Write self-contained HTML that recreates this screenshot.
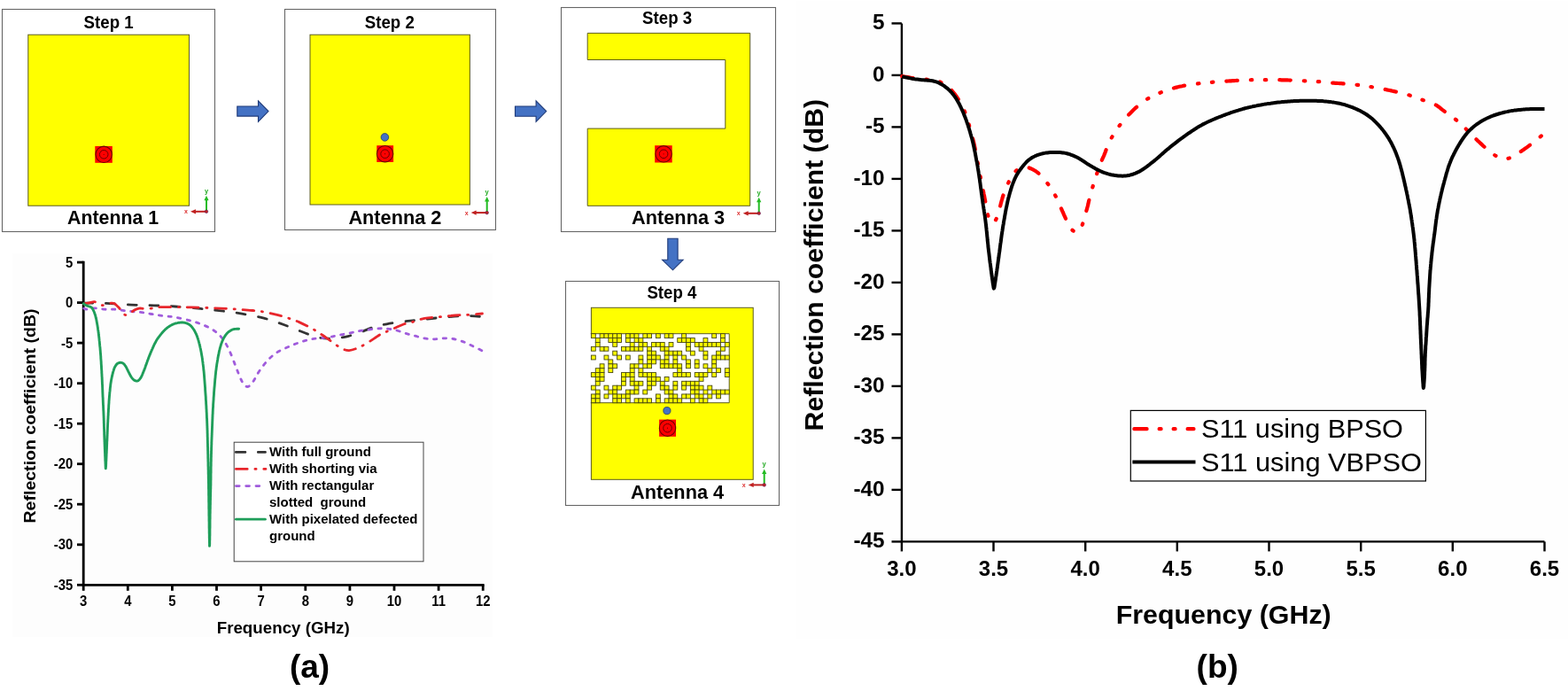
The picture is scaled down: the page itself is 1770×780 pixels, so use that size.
<!DOCTYPE html><html><head><meta charset="utf-8"><title>Antenna design steps and reflection coefficient</title>
<style>html,body{margin:0;padding:0;background:#fff;}svg{display:block;}text{font-family:"Liberation Sans",Arial,sans-serif;}</style></head><body>
<svg width="1770" height="780" viewBox="0 0 1770 780">
<rect x="0" y="0" width="1770" height="780" fill="#ffffff"/>
<rect x="14" y="286" width="542" height="433" fill="#fdfdfd"/><rect x="898" y="1" width="872" height="719.5" fill="#fefefe"/>
<rect x="2.5" y="10.5" width="240" height="251" stroke="#666666" stroke-width="1.1" fill="#ffffff"/>
<rect x="31.8" y="39.2" width="181.7" height="193" fill="#ffff00" stroke="#5c5c1e" stroke-width="1"/>
<rect x="107.3" y="165" width="19.5" height="18.8" fill="#ff0000"/><circle cx="117.2" cy="174.3" r="9.2" fill="#ff0000" stroke="#6a0000" stroke-width="1.1"/><circle cx="117.2" cy="174.3" r="4.8" fill="none" stroke="#6a0000" stroke-width="1"/><circle cx="117.2" cy="174.3" r="0.6" fill="#6a0000"/>
<line x1="233" y1="238.8" x2="233" y2="224.8" stroke="#22bb22" stroke-width="2"/><path d="M230.4,226.3 L233,220.8 L235.6,226.3 Z" fill="#22bb22"/><line x1="233" y1="238.8" x2="220" y2="238.8" stroke="#c02020" stroke-width="2"/><path d="M221,236.2 L215,238.8 L221,241.4 Z" fill="#c02020"/><circle cx="233" cy="238.8" r="1.8" fill="#c02020" stroke="#602060" stroke-width="0.6"/><text x="233" y="217.8" font-size="7.5" font-weight="bold" fill="#22aa22" text-anchor="middle">y</text><text x="210" y="241.3" font-size="7" font-weight="bold" fill="#dd3333" text-anchor="middle">x</text>
<text x="122.6" y="31.9" font-size="19.5" font-weight="bold" text-anchor="middle" textLength="56" lengthAdjust="spacingAndGlyphs">Step 1</text>
<text x="127.6" y="252.5" font-size="21.5" font-weight="bold" text-anchor="middle" textLength="103" lengthAdjust="spacingAndGlyphs">Antenna 1</text>
<rect x="321.5" y="10.5" width="238" height="249" stroke="#666666" stroke-width="1.1" fill="#ffffff"/>
<rect x="350" y="39.2" width="180.4" height="191.8" fill="#ffff00" stroke="#5c5c1e" stroke-width="1"/>
<circle cx="434.4" cy="154.9" r="4.3" fill="#4472c4" stroke="#1f3864" stroke-width="0.8"/>
<rect x="425.3" y="164.2" width="18.8" height="18.8" fill="#ff0000"/><circle cx="434.6" cy="173.7" r="9.2" fill="#ff0000" stroke="#6a0000" stroke-width="1.1"/><circle cx="434.6" cy="173.7" r="4.8" fill="none" stroke="#6a0000" stroke-width="1"/><circle cx="434.6" cy="173.7" r="0.6" fill="#6a0000"/>
<line x1="549.7" y1="240.1" x2="549.7" y2="226.1" stroke="#22bb22" stroke-width="2"/><path d="M547.1,227.6 L549.7,222.1 L552.3,227.6 Z" fill="#22bb22"/><line x1="549.7" y1="240.1" x2="536.7" y2="240.1" stroke="#c02020" stroke-width="2"/><path d="M537.7,237.5 L531.7,240.1 L537.7,242.7 Z" fill="#c02020"/><circle cx="549.7" cy="240.1" r="1.8" fill="#c02020" stroke="#602060" stroke-width="0.6"/><text x="549.7" y="219.1" font-size="7.5" font-weight="bold" fill="#22aa22" text-anchor="middle">y</text><text x="526.7" y="242.6" font-size="7" font-weight="bold" fill="#dd3333" text-anchor="middle">x</text>
<text x="439.8" y="31.9" font-size="19.5" font-weight="bold" text-anchor="middle" textLength="56" lengthAdjust="spacingAndGlyphs">Step 2</text>
<text x="445.9" y="252.9" font-size="21.5" font-weight="bold" text-anchor="middle" textLength="105" lengthAdjust="spacingAndGlyphs">Antenna 2</text>
<rect x="633.5" y="8.5" width="242" height="253" stroke="#666666" stroke-width="1.1" fill="#ffffff"/>
<path d="M663.2,37.4 H846.7 V232.3 H663.2 V145.1 H818.8 V67.5 H663.2 Z" fill="#ffff00" stroke="#5c5c1e" stroke-width="1"/>
<rect x="739.2" y="164.2" width="19.5" height="19.3" fill="#ff0000"/><circle cx="749.1" cy="173.8" r="9.2" fill="#ff0000" stroke="#6a0000" stroke-width="1.1"/><circle cx="749.1" cy="173.8" r="4.8" fill="none" stroke="#6a0000" stroke-width="1"/><circle cx="749.1" cy="173.8" r="0.6" fill="#6a0000"/>
<line x1="856.7" y1="240.8" x2="856.7" y2="226.8" stroke="#22bb22" stroke-width="2"/><path d="M854.1,228.3 L856.7,222.8 L859.3,228.3 Z" fill="#22bb22"/><line x1="856.7" y1="240.8" x2="843.7" y2="240.8" stroke="#c02020" stroke-width="2"/><path d="M844.7,238.2 L838.7,240.8 L844.7,243.4 Z" fill="#c02020"/><circle cx="856.7" cy="240.8" r="1.8" fill="#c02020" stroke="#602060" stroke-width="0.6"/><text x="856.7" y="219.8" font-size="7.5" font-weight="bold" fill="#22aa22" text-anchor="middle">y</text><text x="833.7" y="243.3" font-size="7" font-weight="bold" fill="#dd3333" text-anchor="middle">x</text>
<text x="753.1" y="27.4" font-size="19.5" font-weight="bold" text-anchor="middle" textLength="56" lengthAdjust="spacingAndGlyphs">Step 3</text>
<text x="765.6" y="252.8" font-size="21.5" font-weight="bold" text-anchor="middle" textLength="105" lengthAdjust="spacingAndGlyphs">Antenna 3</text>
<rect x="638.5" y="317.5" width="241" height="253" stroke="#666666" stroke-width="1.1" fill="#ffffff"/>
<rect x="667.4" y="347.3" width="182.8" height="194" fill="#ffff00" stroke="#5c5c1e" stroke-width="1"/>
<rect x="666.1999999999999" y="376.7" width="157" height="78" fill="#ffffff"/>
<path d="M666.8,376.7 H823.2 V454.7 H666.8" fill="none" stroke="#5c5c1e" stroke-width="1"/>
<g fill="#ffff00" stroke="#45450f" stroke-width="0.9"><rect x="667.40" y="376.70" width="4.87" height="4.88"/><rect x="677.14" y="376.70" width="4.87" height="4.88"/><rect x="682.01" y="376.70" width="4.87" height="4.88"/><rect x="686.88" y="376.70" width="4.87" height="4.88"/><rect x="691.74" y="376.70" width="4.87" height="4.88"/><rect x="696.61" y="376.70" width="4.87" height="4.88"/><rect x="706.35" y="376.70" width="4.87" height="4.88"/><rect x="711.22" y="376.70" width="4.87" height="4.88"/><rect x="716.09" y="376.70" width="4.87" height="4.88"/><rect x="725.82" y="376.70" width="4.87" height="4.88"/><rect x="730.69" y="376.70" width="4.87" height="4.88"/><rect x="740.43" y="376.70" width="4.87" height="4.88"/><rect x="750.17" y="376.70" width="4.87" height="4.88"/><rect x="755.04" y="376.70" width="4.87" height="4.88"/><rect x="769.64" y="376.70" width="4.87" height="4.88"/><rect x="803.73" y="376.70" width="4.87" height="4.88"/><rect x="813.46" y="376.70" width="4.87" height="4.88"/><rect x="672.27" y="381.57" width="4.87" height="4.88"/><rect x="686.88" y="381.57" width="4.87" height="4.88"/><rect x="691.74" y="381.57" width="4.87" height="4.88"/><rect x="696.61" y="381.57" width="4.87" height="4.88"/><rect x="706.35" y="381.57" width="4.87" height="4.88"/><rect x="716.09" y="381.57" width="4.87" height="4.88"/><rect x="720.96" y="381.57" width="4.87" height="4.88"/><rect x="764.77" y="381.57" width="4.87" height="4.88"/><rect x="769.64" y="381.57" width="4.87" height="4.88"/><rect x="774.51" y="381.57" width="4.87" height="4.88"/><rect x="779.38" y="381.57" width="4.87" height="4.88"/><rect x="793.99" y="381.57" width="4.87" height="4.88"/><rect x="813.46" y="381.57" width="4.87" height="4.88"/><rect x="672.27" y="386.45" width="4.87" height="4.88"/><rect x="691.74" y="386.45" width="4.87" height="4.88"/><rect x="711.22" y="386.45" width="4.87" height="4.88"/><rect x="720.96" y="386.45" width="4.87" height="4.88"/><rect x="725.82" y="386.45" width="4.87" height="4.88"/><rect x="735.56" y="386.45" width="4.87" height="4.88"/><rect x="740.43" y="386.45" width="4.87" height="4.88"/><rect x="745.30" y="386.45" width="4.87" height="4.88"/><rect x="755.04" y="386.45" width="4.87" height="4.88"/><rect x="774.51" y="386.45" width="4.87" height="4.88"/><rect x="784.25" y="386.45" width="4.87" height="4.88"/><rect x="789.12" y="386.45" width="4.87" height="4.88"/><rect x="793.99" y="386.45" width="4.87" height="4.88"/><rect x="798.86" y="386.45" width="4.87" height="4.88"/><rect x="803.73" y="386.45" width="4.87" height="4.88"/><rect x="808.59" y="386.45" width="4.87" height="4.88"/><rect x="818.33" y="386.45" width="4.87" height="4.88"/><rect x="667.40" y="391.32" width="4.87" height="4.88"/><rect x="677.14" y="391.32" width="4.87" height="4.88"/><rect x="682.01" y="391.32" width="4.87" height="4.88"/><rect x="701.48" y="391.32" width="4.87" height="4.88"/><rect x="706.35" y="391.32" width="4.87" height="4.88"/><rect x="711.22" y="391.32" width="4.87" height="4.88"/><rect x="716.09" y="391.32" width="4.87" height="4.88"/><rect x="720.96" y="391.32" width="4.87" height="4.88"/><rect x="730.69" y="391.32" width="4.87" height="4.88"/><rect x="745.30" y="391.32" width="4.87" height="4.88"/><rect x="750.17" y="391.32" width="4.87" height="4.88"/><rect x="774.51" y="391.32" width="4.87" height="4.88"/><rect x="789.12" y="391.32" width="4.87" height="4.88"/><rect x="813.46" y="391.32" width="4.87" height="4.88"/><rect x="691.74" y="396.20" width="4.87" height="4.88"/><rect x="730.69" y="396.20" width="4.87" height="4.88"/><rect x="735.56" y="396.20" width="4.87" height="4.88"/><rect x="750.17" y="396.20" width="4.87" height="4.88"/><rect x="755.04" y="396.20" width="4.87" height="4.88"/><rect x="759.91" y="396.20" width="4.87" height="4.88"/><rect x="764.77" y="396.20" width="4.87" height="4.88"/><rect x="779.38" y="396.20" width="4.87" height="4.88"/><rect x="793.99" y="396.20" width="4.87" height="4.88"/><rect x="808.59" y="396.20" width="4.87" height="4.88"/><rect x="667.40" y="401.07" width="4.87" height="4.88"/><rect x="682.01" y="401.07" width="4.87" height="4.88"/><rect x="696.61" y="401.07" width="4.87" height="4.88"/><rect x="706.35" y="401.07" width="4.87" height="4.88"/><rect x="720.96" y="401.07" width="4.87" height="4.88"/><rect x="730.69" y="401.07" width="4.87" height="4.88"/><rect x="735.56" y="401.07" width="4.87" height="4.88"/><rect x="740.43" y="401.07" width="4.87" height="4.88"/><rect x="750.17" y="401.07" width="4.87" height="4.88"/><rect x="759.91" y="401.07" width="4.87" height="4.88"/><rect x="769.64" y="401.07" width="4.87" height="4.88"/><rect x="793.99" y="401.07" width="4.87" height="4.88"/><rect x="803.73" y="401.07" width="4.87" height="4.88"/><rect x="808.59" y="401.07" width="4.87" height="4.88"/><rect x="813.46" y="401.07" width="4.87" height="4.88"/><rect x="818.33" y="401.07" width="4.87" height="4.88"/><rect x="686.88" y="405.95" width="4.87" height="4.88"/><rect x="720.96" y="405.95" width="4.87" height="4.88"/><rect x="730.69" y="405.95" width="4.87" height="4.88"/><rect x="735.56" y="405.95" width="4.87" height="4.88"/><rect x="745.30" y="405.95" width="4.87" height="4.88"/><rect x="750.17" y="405.95" width="4.87" height="4.88"/><rect x="759.91" y="405.95" width="4.87" height="4.88"/><rect x="774.51" y="405.95" width="4.87" height="4.88"/><rect x="784.25" y="405.95" width="4.87" height="4.88"/><rect x="803.73" y="405.95" width="4.87" height="4.88"/><rect x="677.14" y="410.82" width="4.87" height="4.88"/><rect x="686.88" y="410.82" width="4.87" height="4.88"/><rect x="691.74" y="410.82" width="4.87" height="4.88"/><rect x="711.22" y="410.82" width="4.87" height="4.88"/><rect x="716.09" y="410.82" width="4.87" height="4.88"/><rect x="725.82" y="410.82" width="4.87" height="4.88"/><rect x="730.69" y="410.82" width="4.87" height="4.88"/><rect x="745.30" y="410.82" width="4.87" height="4.88"/><rect x="750.17" y="410.82" width="4.87" height="4.88"/><rect x="755.04" y="410.82" width="4.87" height="4.88"/><rect x="759.91" y="410.82" width="4.87" height="4.88"/><rect x="764.77" y="410.82" width="4.87" height="4.88"/><rect x="774.51" y="410.82" width="4.87" height="4.88"/><rect x="784.25" y="410.82" width="4.87" height="4.88"/><rect x="793.99" y="410.82" width="4.87" height="4.88"/><rect x="803.73" y="410.82" width="4.87" height="4.88"/><rect x="672.27" y="415.70" width="4.87" height="4.88"/><rect x="677.14" y="415.70" width="4.87" height="4.88"/><rect x="686.88" y="415.70" width="4.87" height="4.88"/><rect x="711.22" y="415.70" width="4.87" height="4.88"/><rect x="720.96" y="415.70" width="4.87" height="4.88"/><rect x="764.77" y="415.70" width="4.87" height="4.88"/><rect x="798.86" y="415.70" width="4.87" height="4.88"/><rect x="808.59" y="415.70" width="4.87" height="4.88"/><rect x="818.33" y="415.70" width="4.87" height="4.88"/><rect x="667.40" y="420.57" width="4.87" height="4.88"/><rect x="672.27" y="420.57" width="4.87" height="4.88"/><rect x="677.14" y="420.57" width="4.87" height="4.88"/><rect x="701.48" y="420.57" width="4.87" height="4.88"/><rect x="706.35" y="420.57" width="4.87" height="4.88"/><rect x="711.22" y="420.57" width="4.87" height="4.88"/><rect x="720.96" y="420.57" width="4.87" height="4.88"/><rect x="725.82" y="420.57" width="4.87" height="4.88"/><rect x="730.69" y="420.57" width="4.87" height="4.88"/><rect x="735.56" y="420.57" width="4.87" height="4.88"/><rect x="759.91" y="420.57" width="4.87" height="4.88"/><rect x="764.77" y="420.57" width="4.87" height="4.88"/><rect x="769.64" y="420.57" width="4.87" height="4.88"/><rect x="774.51" y="420.57" width="4.87" height="4.88"/><rect x="784.25" y="420.57" width="4.87" height="4.88"/><rect x="789.12" y="420.57" width="4.87" height="4.88"/><rect x="793.99" y="420.57" width="4.87" height="4.88"/><rect x="803.73" y="420.57" width="4.87" height="4.88"/><rect x="818.33" y="420.57" width="4.87" height="4.88"/><rect x="672.27" y="425.45" width="4.87" height="4.88"/><rect x="677.14" y="425.45" width="4.87" height="4.88"/><rect x="701.48" y="425.45" width="4.87" height="4.88"/><rect x="711.22" y="425.45" width="4.87" height="4.88"/><rect x="730.69" y="425.45" width="4.87" height="4.88"/><rect x="735.56" y="425.45" width="4.87" height="4.88"/><rect x="740.43" y="425.45" width="4.87" height="4.88"/><rect x="750.17" y="425.45" width="4.87" height="4.88"/><rect x="789.12" y="425.45" width="4.87" height="4.88"/><rect x="672.27" y="430.32" width="4.87" height="4.88"/><rect x="701.48" y="430.32" width="4.87" height="4.88"/><rect x="711.22" y="430.32" width="4.87" height="4.88"/><rect x="716.09" y="430.32" width="4.87" height="4.88"/><rect x="720.96" y="430.32" width="4.87" height="4.88"/><rect x="730.69" y="430.32" width="4.87" height="4.88"/><rect x="735.56" y="430.32" width="4.87" height="4.88"/><rect x="745.30" y="430.32" width="4.87" height="4.88"/><rect x="759.91" y="430.32" width="4.87" height="4.88"/><rect x="769.64" y="430.32" width="4.87" height="4.88"/><rect x="774.51" y="430.32" width="4.87" height="4.88"/><rect x="779.38" y="430.32" width="4.87" height="4.88"/><rect x="784.25" y="430.32" width="4.87" height="4.88"/><rect x="667.40" y="435.20" width="4.87" height="4.88"/><rect x="682.01" y="435.20" width="4.87" height="4.88"/><rect x="691.74" y="435.20" width="4.87" height="4.88"/><rect x="696.61" y="435.20" width="4.87" height="4.88"/><rect x="716.09" y="435.20" width="4.87" height="4.88"/><rect x="730.69" y="435.20" width="4.87" height="4.88"/><rect x="745.30" y="435.20" width="4.87" height="4.88"/><rect x="750.17" y="435.20" width="4.87" height="4.88"/><rect x="759.91" y="435.20" width="4.87" height="4.88"/><rect x="769.64" y="435.20" width="4.87" height="4.88"/><rect x="779.38" y="435.20" width="4.87" height="4.88"/><rect x="784.25" y="435.20" width="4.87" height="4.88"/><rect x="789.12" y="435.20" width="4.87" height="4.88"/><rect x="798.86" y="435.20" width="4.87" height="4.88"/><rect x="672.27" y="440.07" width="4.87" height="4.88"/><rect x="686.88" y="440.07" width="4.87" height="4.88"/><rect x="691.74" y="440.07" width="4.87" height="4.88"/><rect x="706.35" y="440.07" width="4.87" height="4.88"/><rect x="711.22" y="440.07" width="4.87" height="4.88"/><rect x="716.09" y="440.07" width="4.87" height="4.88"/><rect x="725.82" y="440.07" width="4.87" height="4.88"/><rect x="750.17" y="440.07" width="4.87" height="4.88"/><rect x="755.04" y="440.07" width="4.87" height="4.88"/><rect x="779.38" y="440.07" width="4.87" height="4.88"/><rect x="784.25" y="440.07" width="4.87" height="4.88"/><rect x="793.99" y="440.07" width="4.87" height="4.88"/><rect x="803.73" y="440.07" width="4.87" height="4.88"/><rect x="808.59" y="440.07" width="4.87" height="4.88"/><rect x="813.46" y="440.07" width="4.87" height="4.88"/><rect x="818.33" y="440.07" width="4.87" height="4.88"/><rect x="667.40" y="444.95" width="4.87" height="4.88"/><rect x="672.27" y="444.95" width="4.87" height="4.88"/><rect x="682.01" y="444.95" width="4.87" height="4.88"/><rect x="691.74" y="444.95" width="4.87" height="4.88"/><rect x="696.61" y="444.95" width="4.87" height="4.88"/><rect x="701.48" y="444.95" width="4.87" height="4.88"/><rect x="706.35" y="444.95" width="4.87" height="4.88"/><rect x="740.43" y="444.95" width="4.87" height="4.88"/><rect x="755.04" y="444.95" width="4.87" height="4.88"/><rect x="759.91" y="444.95" width="4.87" height="4.88"/><rect x="769.64" y="444.95" width="4.87" height="4.88"/><rect x="774.51" y="444.95" width="4.87" height="4.88"/><rect x="784.25" y="444.95" width="4.87" height="4.88"/><rect x="789.12" y="444.95" width="4.87" height="4.88"/><rect x="798.86" y="444.95" width="4.87" height="4.88"/><rect x="808.59" y="444.95" width="4.87" height="4.88"/><rect x="667.40" y="449.82" width="4.87" height="4.88"/><rect x="672.27" y="449.82" width="4.87" height="4.88"/><rect x="691.74" y="449.82" width="4.87" height="4.88"/><rect x="696.61" y="449.82" width="4.87" height="4.88"/><rect x="706.35" y="449.82" width="4.87" height="4.88"/><rect x="716.09" y="449.82" width="4.87" height="4.88"/><rect x="720.96" y="449.82" width="4.87" height="4.88"/><rect x="725.82" y="449.82" width="4.87" height="4.88"/><rect x="730.69" y="449.82" width="4.87" height="4.88"/><rect x="740.43" y="449.82" width="4.87" height="4.88"/><rect x="750.17" y="449.82" width="4.87" height="4.88"/><rect x="755.04" y="449.82" width="4.87" height="4.88"/><rect x="759.91" y="449.82" width="4.87" height="4.88"/><rect x="764.77" y="449.82" width="4.87" height="4.88"/><rect x="779.38" y="449.82" width="4.87" height="4.88"/><rect x="789.12" y="449.82" width="4.87" height="4.88"/><rect x="793.99" y="449.82" width="4.87" height="4.88"/></g>
<circle cx="752.9" cy="463.6" r="4.1" fill="#4472c4" stroke="#1f3864" stroke-width="0.8"/>
<rect x="744.1" y="473.6" width="18.9" height="19.2" fill="#ff0000"/><circle cx="753.5" cy="483.2" r="9.2" fill="#ff0000" stroke="#6a0000" stroke-width="1.1"/><circle cx="753.5" cy="483.2" r="4.8" fill="none" stroke="#6a0000" stroke-width="1"/><circle cx="753.5" cy="483.2" r="0.6" fill="#6a0000"/>
<line x1="862.7" y1="547.4" x2="862.7" y2="533.4" stroke="#22bb22" stroke-width="2"/><path d="M860.1,534.9 L862.7,529.4 L865.3,534.9 Z" fill="#22bb22"/><line x1="862.7" y1="547.4" x2="849.7" y2="547.4" stroke="#c02020" stroke-width="2"/><path d="M850.7,544.8 L844.7,547.4 L850.7,550 Z" fill="#c02020"/><circle cx="862.7" cy="547.4" r="1.8" fill="#c02020" stroke="#602060" stroke-width="0.6"/><text x="862.7" y="526.4" font-size="7.5" font-weight="bold" fill="#22aa22" text-anchor="middle">y</text><text x="839.7" y="549.9" font-size="7" font-weight="bold" fill="#dd3333" text-anchor="middle">x</text>
<text x="758.4" y="337.3" font-size="19.5" font-weight="bold" text-anchor="middle" textLength="56" lengthAdjust="spacingAndGlyphs">Step 4</text>
<text x="764.6" y="563" font-size="21.5" font-weight="bold" text-anchor="middle" textLength="105" lengthAdjust="spacingAndGlyphs">Antenna 4</text>
<path d="M267.8,120 H291.5 V113.9 L303,125.6 L291.5,137.4 V131.1 H267.8 Z" fill="#4472c4" stroke="#1f3a78" stroke-width="1.1" stroke-linejoin="miter" stroke-miterlimit="3"/>
<path d="M581.5,120 H605.1 V113.9 L616.7,125.6 L605.1,137.4 V131.2 H581.5 Z" fill="#4472c4" stroke="#1f3a78" stroke-width="1.1" stroke-linejoin="miter" stroke-miterlimit="3"/>
<path d="M753.8,269.3 H765.1 V293.3 H771.1 L759.5,304.8 L747.6,293.3 H753.8 Z" fill="#4472c4" stroke="#1f3a78" stroke-width="1.1" stroke-linejoin="miter" stroke-miterlimit="3"/>
<g stroke="#000" stroke-width="2.8" fill="none" stroke-linecap="square">
<path d="M94.2,296.1 V660.3 H545.2"/>
<line x1="87" y1="296.1" x2="94.2" y2="296.1" stroke-linecap="butt"/>
<line x1="87" y1="341.6" x2="94.2" y2="341.6" stroke-linecap="butt"/>
<line x1="87" y1="387.1" x2="94.2" y2="387.1" stroke-linecap="butt"/>
<line x1="87" y1="432.7" x2="94.2" y2="432.7" stroke-linecap="butt"/>
<line x1="87" y1="478.2" x2="94.2" y2="478.2" stroke-linecap="butt"/>
<line x1="87" y1="523.7" x2="94.2" y2="523.7" stroke-linecap="butt"/>
<line x1="87" y1="569.2" x2="94.2" y2="569.2" stroke-linecap="butt"/>
<line x1="87" y1="614.8" x2="94.2" y2="614.8" stroke-linecap="butt"/>
<line x1="87" y1="660.3" x2="94.2" y2="660.3" stroke-linecap="butt"/>
<line x1="94.2" y1="660.3" x2="94.2" y2="666.8" stroke-linecap="butt"/>
<line x1="144.3" y1="660.3" x2="144.3" y2="666.8" stroke-linecap="butt"/>
<line x1="194.4" y1="660.3" x2="194.4" y2="666.8" stroke-linecap="butt"/>
<line x1="244.5" y1="660.3" x2="244.5" y2="666.8" stroke-linecap="butt"/>
<line x1="294.6" y1="660.3" x2="294.6" y2="666.8" stroke-linecap="butt"/>
<line x1="344.8" y1="660.3" x2="344.8" y2="666.8" stroke-linecap="butt"/>
<line x1="394.9" y1="660.3" x2="394.9" y2="666.8" stroke-linecap="butt"/>
<line x1="445" y1="660.3" x2="445" y2="666.8" stroke-linecap="butt"/>
<line x1="495.1" y1="660.3" x2="495.1" y2="666.8" stroke-linecap="butt"/>
<line x1="545.2" y1="660.3" x2="545.2" y2="666.8" stroke-linecap="butt"/>
</g>
<g font-size="16" font-weight="bold" text-anchor="end">
<text transform="translate(82.2,301.5) scale(0.93,1)">5</text>
<text transform="translate(82.2,347) scale(0.93,1)">0</text>
<text transform="translate(82.2,392.5) scale(0.93,1)">-5</text>
<text transform="translate(82.2,438.1) scale(0.93,1)">-10</text>
<text transform="translate(82.2,483.6) scale(0.93,1)">-15</text>
<text transform="translate(82.2,529.1) scale(0.93,1)">-20</text>
<text transform="translate(82.2,574.6) scale(0.93,1)">-25</text>
<text transform="translate(82.2,620.1) scale(0.93,1)">-30</text>
<text transform="translate(82.2,665.7) scale(0.93,1)">-35</text>
</g><g font-size="16" font-weight="bold" text-anchor="middle">
<text transform="translate(94.2,684.2) scale(0.93,1)">3</text>
<text transform="translate(144.3,684.2) scale(0.93,1)">4</text>
<text transform="translate(194.4,684.2) scale(0.93,1)">5</text>
<text transform="translate(244.5,684.2) scale(0.93,1)">6</text>
<text transform="translate(294.6,684.2) scale(0.93,1)">7</text>
<text transform="translate(344.8,684.2) scale(0.93,1)">8</text>
<text transform="translate(394.9,684.2) scale(0.93,1)">9</text>
<text transform="translate(445,684.2) scale(0.93,1)">10</text>
<text transform="translate(495.1,684.2) scale(0.93,1)">11</text>
<text transform="translate(545.2,684.2) scale(0.93,1)">12</text>
</g>
<text x="319.7" y="714.5" font-size="18.7" font-weight="bold" text-anchor="middle" textLength="150" lengthAdjust="spacingAndGlyphs">Frequency (GHz)</text>
<text transform="translate(40,469.5) rotate(-90)" x="0" y="0" font-size="18.7" font-weight="bold" text-anchor="middle" textLength="242" lengthAdjust="spacingAndGlyphs">Reflection coefficient (dB)</text>
<text x="349.5" y="765.1" font-size="37" font-weight="bold" text-anchor="middle">(a)</text>
<path d="M94.8,342.1 C96.7,342.1 101.9,342.1 106.1,342.1 C110.3,342.2 113.1,342.1 120.2,342.4 C127.3,342.7 139.6,343.7 148.5,344.1 C157.4,344.5 165.7,344.5 173.9,344.8 C182.1,345.1 188.9,345.4 197.7,346 C206.4,346.6 217.7,347.6 226.4,348.4 C235.1,349.2 242,349.9 249.8,350.9 C257.6,351.8 265.1,352.7 273.1,354.1 C281.1,355.5 289.9,357 297.9,359.1 C305.9,361.2 313.3,364 321,366.8 C328.7,369.6 338.1,373.6 344.1,375.8 C350.1,378.1 352.6,379.2 356.9,380.3 C361.2,381.4 365.7,382 369.7,382.2 C373.7,382.4 377.1,381.9 381,381.5 C384.9,381.1 388.3,380.8 392.8,379.6 C397.3,378.4 403.2,376.3 408.2,374.5 C413.2,372.7 418,370.4 422.7,369 C427.4,367.6 431.1,366.8 436.5,365.8 C441.9,364.8 449.4,363.6 455,362.9 C460.6,362.2 463.5,362.1 470,361.4 C476.5,360.7 485,359.6 494.2,358.8 C503.4,358 517,356.7 525.4,356.5 C533.8,356.3 541.3,357.3 544.5,357.5" fill="none" stroke="#333333" stroke-width="2.8" stroke-dasharray="9.9 14.8" stroke-linecap="round"/>
<path d="M94.8,348.1 C95.3,348.3 95.6,349.2 97.6,349.2 C99.6,349.1 103.3,347.8 106.7,347.8 C110.1,347.8 114.2,349 118,349.2 C121.8,349.4 125.6,349 129.3,349.2 C133,349.4 136.3,350.2 140,350.6 C143.7,351 147.5,351.4 151.3,351.8 C155.1,352.2 158.9,352.4 162.6,352.9 C166.3,353.4 169.6,354.3 173.4,354.9 C177.2,355.5 181.1,356.1 185.2,356.6 C189.2,357.1 192.6,357.2 197.7,358.1 C202.8,359 210.3,360.7 215.7,362.2 C221.1,363.7 225.5,365.1 230,367 C234.5,368.9 239,371.3 242.6,373.9 C246.2,376.5 248.9,379.2 251.6,382.8 C254.3,386.4 256.4,390.3 258.8,395.4 C261.2,400.5 264,408.3 266,413.4 C268,418.5 269.5,422.6 271,426 C272.5,429.4 273.7,431.8 275,433.5 C276.3,435.2 277.6,436.4 279,436.5 C280.4,436.6 282,435.6 283.5,434 C285,432.4 286.4,429.6 288,427 C289.6,424.4 290.5,422 292.8,418.7 C295.1,415.4 298.6,410.6 301.8,407.2 C305,403.8 308.2,400.8 312.1,398.2 C316,395.6 320.6,393.7 324.9,391.8 C329.2,389.9 333.2,388.2 337.7,386.7 C342.2,385.2 346.5,383.8 351.8,382.8 C357.1,381.8 364.6,381.6 369.7,380.9 C374.8,380.1 378.3,379.1 382.6,378.3 C386.9,377.5 391.1,376.7 395.4,375.8 C399.7,374.9 403.3,374 408.2,373.2 C413.1,372.4 420.3,371.4 425,371 C429.7,370.6 432.9,370.7 436.5,371 C440.1,371.3 443.4,371.8 446.9,372.7 C450.4,373.6 453.8,375.1 457.3,376.2 C460.8,377.2 464.1,378.1 467.7,379 C471.3,379.9 475.5,381.3 479.2,381.9 C482.9,382.5 485.9,382.8 489.6,382.8 C493.3,382.8 497.6,381.9 501.2,381.9 C504.8,381.8 508.1,381.9 511.5,382.5 C515,383.1 518.4,384.1 521.9,385.4 C525.4,386.6 528.5,388.2 532.3,390 C536.1,391.8 542.5,395 544.5,396" fill="none" stroke="#a05cdc" stroke-width="2.8" stroke-dasharray="3.4 7.3" stroke-linecap="round"/>
<path d="M94.8,343 C95.8,342.8 98.6,342.3 100.5,341.9 C102.4,341.5 104.8,340.8 106.1,340.7 C107.4,340.6 107.5,340.9 108.5,341.3 C109.5,341.7 110.8,342.6 112,343.2 C113.2,343.8 114.4,344.6 115.7,344.6 C117,344.7 118.3,343.9 120,343.5 C121.7,343.1 124.4,342.2 125.9,342.1 C127.5,342 128.2,342.1 129.3,342.7 C130.4,343.3 131.7,344.8 132.7,345.8 C133.7,346.8 134.6,347.7 135.5,348.8 C136.4,349.9 137.2,351.5 138,352.5 C138.8,353.5 139.6,354.5 140.5,355 C141.4,355.5 142.3,355.7 143.5,355.5 C144.7,355.3 146.1,354.6 147.4,353.7 C148.7,352.8 149.7,351.2 151.3,350.3 C152.9,349.4 155.2,348.4 157,348.1 C158.8,347.8 159.8,348.3 162,348.3 C164.2,348.3 167.1,348.5 170,348.2 C172.9,347.9 175,347 179.6,346.7 C184.2,346.4 191.7,346.6 197.7,346.6 C203.7,346.6 208.2,346.7 215.7,346.9 C223.2,347.1 234.8,347.5 242.6,347.8 C250.4,348.1 256.2,348.3 262.4,348.7 C268.6,349.1 274.7,349.7 280,350.1 C285.3,350.6 289.2,350.6 294.1,351.4 C299,352.1 304.6,353.4 309.5,354.6 C314.4,355.8 318.9,357 323.6,358.5 C328.3,360 333,361.6 337.7,363.6 C342.4,365.6 347.7,368.4 351.8,370.6 C355.9,372.9 359.1,375.2 362.1,377.1 C365.1,379 367.1,380.4 369.7,382.2 C372.2,384 374.6,386 377.4,387.9 C380.2,389.8 383.6,392.4 386.4,393.7 C389.2,395 391.3,395.7 394.1,395.6 C396.9,395.5 400.1,394.3 403.1,393.1 C406.1,391.9 409,390.4 412.3,388.5 C415.6,386.6 419.6,383.9 422.7,381.9 C425.8,379.9 428.1,378.1 430.8,376.7 C433.5,375.3 434.6,375.1 438.8,373.3 C443,371.5 451.8,367.4 456.2,365.8 C460.6,364.2 461.6,364.6 465.4,363.5 C469.2,362.4 474,360.4 479.2,359.4 C484.4,358.4 490.7,358.3 496.5,357.7 C502.3,357.1 508.6,356.4 513.8,356 C519,355.6 522.6,355.7 527.7,355.4 C532.8,355.1 541.7,354.2 544.5,354" fill="none" stroke="#e8262c" stroke-width="2.8" stroke-dasharray="12.8 8.7 1.2 8.7" stroke-linecap="round"/>
<path d="M94.3,342.8 L95.0,343.3 L95.9,343.9 L96.6,344.3 L97.4,344.7 L98.1,345.1 L98.9,345.4 L99.7,345.7 L100.5,345.9 L101.3,346.1 L102.2,346.4 L103.0,346.9 L103.8,347.6 L104.5,348.6 L105.2,349.9 L105.9,351.3 L106.2,352.0 L106.5,352.8 L106.8,353.7 L107.1,354.6 L107.5,355.7 L107.8,356.7 L108.0,357.6 L108.2,358.5 L108.5,359.5 L108.7,360.5 L108.9,361.6 L109.1,362.6 L109.3,363.7 L109.5,364.8 L109.7,366.0 L109.9,367.1 L110.1,368.3 L110.3,369.5 L110.5,370.7 L110.6,371.9 L110.8,373.1 L111.0,374.3 L111.1,375.5 L111.3,376.7 L111.4,378.0 L111.6,379.3 L111.7,380.5 L111.9,381.8 L112.0,383.0 L112.1,384.2 L112.3,385.4 L112.4,386.7 L112.5,387.9 L112.6,389.2 L112.7,390.4 L112.9,391.7 L113.0,392.9 L113.1,394.1 L113.2,395.4 L113.3,396.6 L113.4,397.8 L113.5,399.1 L113.6,400.3 L113.7,401.5 L113.8,402.8 L113.8,404.0 L113.9,405.2 L114.0,406.4 L114.1,407.6 L114.2,408.9 L114.2,410.1 L114.3,411.4 L114.4,412.6 L114.5,413.9 L114.5,415.2 L114.6,416.5 L114.7,417.8 L114.8,419.2 L114.8,420.5 L114.9,421.8 L115.0,423.1 L115.0,424.3 L115.1,425.5 L115.2,426.7 L115.2,427.9 L115.3,429.1 L115.3,430.4 L115.4,431.6 L115.4,432.8 L115.5,434.1 L115.6,435.4 L115.6,436.7 L115.7,438.0 L115.7,439.3 L115.8,440.7 L115.8,442.0 L115.9,443.3 L115.9,444.5 L116.0,445.8 L116.0,447.1 L116.1,448.4 L116.2,449.7 L116.2,451.0 L116.3,452.3 L116.3,453.6 L116.4,454.8 L116.4,456.1 L116.5,457.4 L116.6,458.6 L116.6,459.9 L116.7,461.2 L116.7,462.4 L116.8,463.7 L116.9,465.0 L116.9,466.2 L117.0,467.5 L117.0,468.7 L117.1,469.9 L117.1,471.1 L117.2,472.4 L117.2,473.8 L117.3,475.3 L117.3,476.6 L117.3,477.6 L117.4,478.7 L117.4,479.9 L117.4,481.1 L117.5,482.4 L117.5,483.7 L117.6,485.0 L117.6,486.4 L117.7,487.8 L117.7,489.1 L117.7,490.5 L117.8,491.8 L117.8,493.2 L117.9,494.5 L117.9,495.7 L118.0,496.9 L118.0,498.2 L118.1,499.5 L118.1,500.9 L118.2,502.2 L118.2,503.6 L118.3,504.9 L118.3,506.2 L118.4,507.5 L118.4,508.8 L118.5,510.0 L118.5,511.1 L118.6,512.2 L118.6,513.2 L118.6,514.2 L118.7,515.7 L118.8,518.0 L118.8,519.3 L118.9,520.6 L119.0,521.7 L119.0,522.8 L119.1,524.1 L119.1,525.6 L119.2,526.9 L119.2,528.0 L119.3,528.9 L119.5,527.2 L119.6,526.2 L119.6,525.0 L119.7,523.7 L119.7,522.2 L119.8,520.7 L119.9,519.2 L119.9,518.1 L120.0,516.9 L120.0,515.8 L120.1,514.6 L120.1,513.4 L120.2,512.0 L120.3,510.7 L120.3,509.3 L120.4,508.2 L120.4,507.1 L120.5,505.9 L120.5,504.7 L120.6,503.4 L120.6,502.1 L120.7,500.8 L120.7,499.5 L120.8,498.2 L120.9,496.9 L120.9,495.7 L121.0,494.4 L121.0,493.2 L121.1,491.9 L121.1,490.7 L121.2,489.5 L121.2,488.2 L121.3,487.0 L121.3,485.7 L121.4,484.5 L121.4,483.2 L121.5,482.0 L121.5,480.8 L121.6,479.5 L121.6,478.3 L121.7,477.0 L121.8,475.7 L121.8,474.4 L121.9,473.2 L122.0,471.9 L122.0,470.6 L122.1,469.3 L122.2,468.1 L122.2,466.9 L122.3,465.7 L122.4,464.5 L122.4,463.2 L122.5,461.9 L122.6,460.6 L122.7,459.3 L122.7,458.1 L122.8,456.8 L122.9,455.6 L123.0,454.5 L123.0,453.4 L123.1,452.2 L123.2,450.9 L123.3,449.6 L123.4,448.4 L123.5,447.2 L123.6,446.0 L123.7,444.8 L123.8,443.6 L123.9,442.4 L124.1,441.2 L124.2,439.9 L124.3,438.7 L124.4,437.5 L124.6,436.3 L124.7,435.2 L124.8,434.1 L125.0,432.8 L125.2,431.5 L125.4,430.2 L125.6,429.1 L125.8,428.0 L126.0,427.0 L126.2,426.0 L126.4,425.0 L126.7,424.0 L126.9,423.0 L127.1,422.1 L127.4,421.0 L127.6,420.0 L127.9,419.1 L128.2,418.1 L128.5,417.2 L128.8,416.3 L129.1,415.5 L129.4,414.7 L130.1,413.5 L130.8,412.4 L131.5,411.4 L132.3,410.6 L133.1,410.1 L133.9,409.7 L134.7,409.5 L135.8,409.3 L137.0,409.4 L138.1,409.7 L138.9,410.1 L139.7,410.7 L140.5,411.5 L141.2,412.6 L142.0,413.7 L142.7,414.9 L143.3,416.2 L143.7,417.0 L144.1,417.7 L144.6,418.8 L145.2,420.0 L145.9,421.5 L146.6,422.8 L147.3,424.1 L148.0,425.2 L148.7,426.3 L149.4,427.2 L150.2,428.0 L150.9,428.7 L151.7,429.2 L152.5,429.7 L153.3,430.0 L154.4,430.1 L155.3,430.0 L156.1,429.6 L156.8,429.0 L157.6,428.2 L158.4,427.2 L159.1,426.0 L159.8,424.7 L160.5,423.3 L160.8,422.5 L161.1,421.7 L161.5,420.9 L161.8,420.1 L162.1,419.3 L162.4,418.5 L162.8,417.7 L163.1,416.8 L163.4,416.0 L163.7,415.2 L164.0,414.4 L164.3,413.4 L164.6,412.5 L165.0,411.6 L165.3,410.7 L165.6,409.8 L165.9,409.0 L166.2,408.1 L166.5,407.3 L166.8,406.5 L167.1,405.7 L167.4,404.9 L167.7,404.1 L168.0,403.3 L168.3,402.5 L168.6,401.7 L169.0,400.9 L169.3,400.1 L169.6,399.4 L169.9,398.6 L170.2,397.8 L170.6,397.0 L170.9,396.2 L171.2,395.5 L171.6,394.7 L171.9,394.0 L172.2,393.2 L172.6,392.5 L172.9,391.7 L173.2,391.0 L173.6,390.2 L174.2,388.8 L174.9,387.5 L175.6,386.2 L176.3,384.9 L176.9,383.8 L177.6,382.7 L178.4,381.6 L179.1,380.6 L179.9,379.6 L180.6,378.6 L181.4,377.7 L182.2,376.7 L182.9,375.8 L183.6,375.0 L184.4,374.1 L185.2,373.3 L186.0,372.5 L186.7,371.7 L187.5,371.1 L188.3,370.4 L189.0,369.8 L189.8,369.2 L190.6,368.7 L191.3,368.2 L192.1,367.7 L192.9,367.3 L193.6,366.9 L194.4,366.5 L195.2,366.1 L196.0,365.8 L196.8,365.5 L197.6,365.2 L198.4,365.0 L199.2,364.8 L200.1,364.6 L200.9,364.4 L201.7,364.3 L202.5,364.2 L203.3,364.1 L204.1,364.0 L204.9,364.0 L205.7,364.0 L206.5,364.0 L207.3,364.1 L208.1,364.2 L208.9,364.4 L209.7,364.6 L210.5,364.8 L211.3,365.1 L212.1,365.5 L212.9,366.0 L213.7,366.4 L214.3,366.9 L215.2,367.6 L215.9,368.3 L216.6,369.1 L217.3,370.0 L218.0,371.0 L218.8,372.1 L219.5,373.3 L220.2,374.6 L220.9,376.0 L221.3,376.7 L221.6,377.5 L222.0,378.3 L222.3,379.2 L222.6,380.1 L222.9,380.9 L223.2,381.7 L223.5,382.6 L223.8,383.6 L224.1,384.5 L224.3,385.4 L224.6,386.4 L224.8,387.3 L225.1,388.3 L225.3,389.3 L225.6,390.2 L225.8,391.2 L226.0,392.3 L226.3,393.3 L226.5,394.3 L226.7,395.4 L226.9,396.4 L227.1,397.5 L227.3,398.6 L227.5,399.7 L227.7,400.9 L227.9,402.0 L228.1,403.1 L228.3,404.4 L228.5,405.6 L228.6,406.9 L228.8,408.2 L229.0,409.4 L229.1,410.7 L229.3,411.9 L229.4,413.1 L229.6,414.4 L229.7,415.7 L229.8,416.8 L229.9,418.0 L230.1,419.1 L230.2,420.3 L230.3,421.5 L230.4,422.7 L230.5,424.0 L230.6,425.3 L230.7,426.6 L230.8,427.9 L230.9,429.2 L231.0,430.5 L231.1,431.8 L231.2,433.1 L231.3,434.4 L231.4,435.7 L231.5,437.0 L231.6,438.3 L231.6,439.6 L231.7,440.9 L231.8,442.2 L231.9,443.5 L232.0,444.8 L232.1,446.1 L232.2,447.4 L232.3,448.7 L232.3,450.0 L232.4,451.3 L232.5,452.6 L232.6,453.9 L232.6,455.2 L232.7,456.5 L232.8,457.8 L232.9,459.1 L232.9,460.4 L233.0,461.7 L233.1,463.0 L233.1,464.2 L233.2,465.5 L233.3,466.8 L233.3,468.1 L233.4,469.4 L233.4,470.7 L233.5,472.0 L233.6,473.3 L233.6,474.6 L233.7,475.9 L233.7,477.2 L233.8,478.5 L233.8,479.8 L233.9,481.0 L233.9,482.3 L234.0,483.6 L234.0,485.0 L234.1,486.3 L234.1,487.5 L234.1,488.7 L234.2,489.9 L234.2,491.2 L234.2,492.6 L234.3,494.0 L234.3,495.5 L234.3,496.7 L234.4,497.9 L234.4,499.0 L234.4,500.2 L234.5,501.4 L234.5,502.7 L234.5,504.0 L234.6,505.3 L234.6,506.7 L234.6,508.0 L234.7,509.3 L234.7,510.6 L234.7,511.9 L234.8,513.2 L234.8,514.4 L234.8,515.7 L234.8,517.0 L234.9,518.2 L234.9,519.5 L234.9,520.7 L235.0,522.0 L235.0,523.3 L235.0,524.5 L235.0,525.8 L235.1,527.1 L235.1,528.4 L235.1,529.7 L235.2,531.0 L235.2,532.3 L235.2,533.6 L235.2,534.9 L235.3,536.2 L235.3,537.6 L235.3,538.9 L235.3,540.2 L235.4,541.5 L235.4,542.8 L235.4,544.0 L235.4,545.2 L235.5,546.4 L235.5,547.7 L235.5,549.1 L235.5,550.4 L235.5,551.7 L235.6,552.9 L235.6,554.1 L235.6,555.3 L235.6,556.5 L235.6,557.7 L235.6,558.9 L235.7,560.2 L235.7,561.5 L235.7,562.8 L235.7,564.1 L235.7,565.3 L235.7,566.6 L235.8,567.9 L235.8,569.3 L235.8,570.6 L235.8,571.9 L235.8,573.1 L235.8,574.2 L235.9,575.4 L235.9,576.6 L235.9,577.9 L235.9,579.2 L235.9,580.5 L235.9,581.8 L236.0,583.0 L236.0,584.3 L236.0,585.6 L236.0,586.8 L236.0,588.0 L236.1,589.3 L236.1,590.6 L236.1,591.9 L236.1,593.3 L236.1,594.6 L236.1,595.9 L236.2,597.1 L236.2,598.4 L236.2,599.5 L236.2,600.6 L236.2,601.7 L236.3,603.0 L236.3,604.4 L236.3,605.8 L236.3,607.1 L236.4,608.3 L236.4,609.4 L236.4,610.6 L236.4,611.7 L236.5,612.5 L236.5,613.4 L236.5,614.3 L236.5,615.1 L236.5,616.4 L236.6,615.1 L236.7,614.3 L236.7,613.4 L236.7,612.5 L236.7,611.7 L236.7,610.6 L236.8,609.4 L236.8,608.3 L236.8,607.1 L236.8,605.8 L236.9,604.4 L236.9,603.0 L236.9,601.7 L236.9,600.6 L236.9,599.5 L236.9,598.4 L236.9,597.1 L237.0,595.9 L237.0,594.6 L237.0,593.3 L237.0,591.9 L237.0,590.6 L237.0,589.3 L237.0,588.0 L237.0,586.8 L237.1,585.6 L237.1,584.3 L237.1,583.0 L237.1,581.8 L237.1,580.5 L237.2,579.2 L237.2,577.9 L237.2,576.6 L237.2,575.4 L237.3,574.2 L237.3,573.1 L237.3,571.9 L237.3,570.6 L237.4,569.3 L237.4,567.9 L237.4,566.6 L237.4,565.3 L237.5,564.1 L237.5,562.8 L237.5,561.5 L237.6,560.2 L237.6,558.9 L237.6,557.7 L237.6,556.5 L237.7,555.3 L237.7,554.1 L237.7,552.9 L237.8,551.7 L237.8,550.4 L237.8,549.1 L237.9,547.7 L237.9,546.4 L237.9,545.2 L237.9,544.0 L237.9,542.8 L238.0,541.5 L238.0,540.2 L238.0,538.9 L238.0,537.6 L238.0,536.2 L238.0,534.9 L238.1,533.6 L238.1,532.3 L238.1,531.0 L238.1,529.7 L238.1,528.4 L238.1,527.1 L238.2,525.8 L238.2,524.5 L238.2,523.3 L238.2,522.0 L238.3,520.7 L238.3,519.5 L238.3,518.2 L238.3,517.0 L238.4,515.7 L238.4,514.4 L238.4,513.1 L238.5,511.9 L238.5,510.6 L238.5,509.3 L238.6,508.1 L238.6,506.8 L238.6,505.6 L238.7,504.3 L238.7,503.0 L238.8,501.8 L238.8,500.5 L238.8,499.2 L238.9,498.0 L238.9,496.7 L239.0,495.4 L239.0,494.2 L239.1,492.9 L239.1,491.7 L239.2,490.4 L239.2,489.1 L239.3,487.9 L239.3,486.6 L239.4,485.3 L239.4,484.1 L239.5,482.8 L239.5,481.6 L239.6,480.3 L239.6,479.0 L239.7,477.8 L239.7,476.5 L239.8,475.2 L239.8,473.9 L239.9,472.7 L239.9,471.4 L240.0,470.1 L240.0,468.9 L240.1,467.6 L240.2,466.3 L240.2,465.1 L240.3,463.8 L240.3,462.6 L240.4,461.3 L240.5,460.0 L240.6,458.6 L240.6,457.2 L240.7,455.9 L240.8,454.5 L240.9,453.2 L241.0,451.9 L241.1,450.6 L241.1,449.5 L241.2,448.4 L241.3,447.3 L241.4,446.0 L241.5,444.7 L241.5,443.6 L241.6,442.4 L241.7,441.2 L241.8,439.9 L241.9,438.5 L242.0,437.5 L242.1,436.5 L242.2,435.5 L242.3,434.3 L242.4,433.1 L242.5,431.8 L242.6,430.5 L242.7,429.2 L242.8,427.8 L243.0,426.5 L243.1,425.1 L243.2,423.8 L243.4,422.5 L243.5,421.3 L243.6,420.1 L243.7,418.9 L243.9,417.7 L244.1,416.5 L244.2,415.2 L244.4,414.0 L244.6,412.8 L244.7,411.6 L244.9,410.4 L245.1,409.3 L245.3,408.2 L245.5,407.1 L245.7,406.0 L245.8,404.9 L246.0,403.9 L246.2,402.8 L246.4,401.6 L246.7,400.5 L246.9,399.4 L247.1,398.4 L247.3,397.3 L247.5,396.3 L247.7,395.4 L248.0,394.4 L248.2,393.5 L248.4,392.6 L248.7,391.6 L249.0,390.7 L249.3,389.8 L249.5,388.9 L249.8,388.0 L250.1,387.2 L250.4,386.4 L250.7,385.6 L251.0,384.9 L251.7,383.4 L252.3,382.1 L253.1,380.8 L253.8,379.6 L254.5,378.5 L255.2,377.6 L255.9,376.7 L256.7,375.9 L257.4,375.1 L258.2,374.5 L259.0,373.9 L259.8,373.4 L260.6,372.9 L261.4,372.5 L262.2,372.2 L262.9,371.9 L263.7,371.7 L264.5,371.5 L265.7,371.4 L266.8,371.3 L267.6,371.2 L268.6,371.2 L269.6,371.2" fill="none" stroke="#1f9e5a" stroke-width="2.9" stroke-linejoin="round" stroke-linecap="round"/>
<rect x="264.2" y="499.2" width="213.8" height="134.6" fill="#ffffff" stroke="#444" stroke-width="1"/>
<g fill="none" stroke-width="2.8" stroke-linecap="round">
<line x1="266.3" y1="510.4" x2="299.5" y2="510.4" stroke="#333" stroke-dasharray="10.6 14.4"/>
<line x1="266.4" y1="529.4" x2="300" y2="529.4" stroke="#e8262c" stroke-dasharray="12.8 8.7 1.2 8.7"/>
<line x1="266.4" y1="548.6" x2="292.8" y2="548.6" stroke="#a05cdc" stroke-dasharray="3.8 7.5"/>
<line x1="266.4" y1="586.2" x2="299.4" y2="586.2" stroke="#1f9e5a"/>
</g>
<g font-size="15" font-weight="bold">
<text x="304" y="515.4">With full ground</text>
<text x="304" y="534.2">With shorting via</text>
<text x="304" y="553.1">With rectangular</text>
<text x="304" y="571.7">slotted&#160; ground</text>
<text x="304" y="591">With pixelated defected</text>
<text x="304" y="609.6">ground</text>
</g>
<g stroke="#000" stroke-width="2.4" fill="none">
<path d="M1017.9,26.4 V611.4 H1743.5"/>
<line x1="1006.5" y1="26.4" x2="1017.9" y2="26.4"/>
<line x1="1006.5" y1="84.9" x2="1017.9" y2="84.9"/>
<line x1="1006.5" y1="143.4" x2="1017.9" y2="143.4"/>
<line x1="1006.5" y1="201.9" x2="1017.9" y2="201.9"/>
<line x1="1006.5" y1="260.4" x2="1017.9" y2="260.4"/>
<line x1="1006.5" y1="318.9" x2="1017.9" y2="318.9"/>
<line x1="1006.5" y1="377.4" x2="1017.9" y2="377.4"/>
<line x1="1006.5" y1="435.9" x2="1017.9" y2="435.9"/>
<line x1="1006.5" y1="494.4" x2="1017.9" y2="494.4"/>
<line x1="1006.5" y1="552.9" x2="1017.9" y2="552.9"/>
<line x1="1006.5" y1="611.4" x2="1017.9" y2="611.4"/>
<line x1="1017.9" y1="611.4" x2="1017.9" y2="622.4"/>
<line x1="1121.5" y1="611.4" x2="1121.5" y2="622.4"/>
<line x1="1225.2" y1="611.4" x2="1225.2" y2="622.4"/>
<line x1="1328.8" y1="611.4" x2="1328.8" y2="622.4"/>
<line x1="1432.5" y1="611.4" x2="1432.5" y2="622.4"/>
<line x1="1536.2" y1="611.4" x2="1536.2" y2="622.4"/>
<line x1="1639.8" y1="611.4" x2="1639.8" y2="622.4"/>
<line x1="1743.5" y1="611.4" x2="1743.5" y2="622.4"/>
</g>
<g font-size="24.3" font-weight="bold" text-anchor="end">
<text x="998.6" y="33.4">5</text>
<text x="998.6" y="91.9">0</text>
<text x="998.6" y="150.4">-5</text>
<text x="998.6" y="208.9">-10</text>
<text x="998.6" y="267.4">-15</text>
<text x="998.6" y="325.9">-20</text>
<text x="998.6" y="384.4">-25</text>
<text x="998.6" y="442.9">-30</text>
<text x="998.6" y="501.4">-35</text>
<text x="998.6" y="559.9">-40</text>
<text x="998.6" y="618.4">-45</text>
</g><g font-size="24" font-weight="bold" text-anchor="middle">
<text x="1017.9" y="650">3.0</text>
<text x="1121.5" y="650">3.5</text>
<text x="1225.2" y="650">4.0</text>
<text x="1328.8" y="650">4.5</text>
<text x="1432.5" y="650">5.0</text>
<text x="1536.2" y="650">5.5</text>
<text x="1639.8" y="650">6.0</text>
<text x="1743.5" y="650">6.5</text>
</g>
<text x="1381.2" y="704.3" font-size="29.8" font-weight="bold" text-anchor="middle" textLength="243" lengthAdjust="spacingAndGlyphs">Frequency (GHz)</text>
<text transform="translate(928.6,299.2) rotate(-90)" x="0" y="0" font-size="29.8" font-weight="bold" text-anchor="middle" textLength="374.5" lengthAdjust="spacingAndGlyphs">Reflection coefficient (dB)</text>
<text x="1374.2" y="765.1" font-size="37" font-weight="bold" text-anchor="middle">(b)</text>
<path d="M1018.2,86.0 L1019.9,86.3 L1021.5,86.6 L1023.0,86.8 L1024.7,87.1 L1026.3,87.4 L1027.9,87.7 L1029.5,88.0 L1031.2,88.3 L1032.7,88.5 L1034.3,88.8 L1035.8,89.0 L1037.2,89.2 L1038.8,89.3 L1040.6,89.5 L1042.4,89.6 L1044.1,89.7 L1045.8,89.7 L1047.4,89.8 L1048.9,89.9 L1050.4,90.0 L1051.9,90.2 L1053.7,90.5 L1055.5,90.9 L1057.2,91.3 L1058.8,91.7 L1060.4,92.2 L1062.0,92.9 L1063.5,93.6 L1064.9,94.4 L1066.4,95.2 L1067.8,96.2 L1069.1,97.2 L1070.5,98.2 L1071.7,99.3 L1072.9,100.5 L1074.1,101.8 L1075.2,103.1 L1076.4,104.5 L1077.5,105.8 L1078.5,107.2 L1079.5,108.5 L1080.4,109.9 L1081.4,111.3 L1082.3,112.8 L1083.2,114.3 L1084.1,115.8 L1084.9,117.3 L1085.6,118.7 L1086.3,120.1 L1087.0,121.6 L1087.7,123.1 L1088.4,124.6 L1089.1,126.2 L1089.7,127.8 L1090.3,129.3 L1090.8,130.8 L1091.3,132.2 L1091.8,133.7 L1092.2,135.2 L1092.7,136.8 L1093.1,138.4 L1093.6,140.0 L1094.1,141.7 L1094.5,143.3 L1094.9,144.7 L1095.3,146.2 L1095.8,147.7 L1096.2,149.3 L1096.6,150.8 L1097.1,152.4 L1097.5,154.1 L1097.9,155.7 L1098.3,157.3 L1098.7,159.0 L1099.1,160.6 L1099.5,162.2 L1099.8,163.8 L1100.2,165.4 L1100.5,167.0 L1100.8,168.6 L1101.1,170.2 L1101.5,171.9 L1101.8,173.5 L1102.1,175.1 L1102.4,176.8 L1102.7,178.4 L1103.0,180.0 L1103.3,181.6 L1103.5,183.2 L1103.9,184.8 L1104.2,186.5 L1104.5,188.1 L1104.8,189.8 L1105.1,191.4 L1105.4,193.0 L1105.7,194.6 L1106.1,196.2 L1106.4,197.8 L1106.7,199.4 L1107.0,201.1 L1107.3,202.8 L1107.7,204.4 L1108.0,206.0 L1108.3,207.6 L1108.6,209.2 L1109.0,210.9 L1109.3,212.6 L1109.6,214.2 L1110.0,215.9 L1110.3,217.5 L1110.6,219.2 L1111.0,220.8 L1111.3,222.4 L1111.6,223.9 L1111.9,225.4 L1112.2,227.1 L1112.5,228.9 L1112.8,230.7 L1113.1,232.4 L1113.4,234.1 L1113.7,235.8 L1114.0,237.5 L1114.3,239.0 L1114.6,240.4 L1114.9,241.6 L1115.2,242.8 L1115.8,244.9 L1116.4,246.8 L1116.9,248.3 L1117.6,249.4 L1118.8,250.8 L1120.3,251.2 L1121.9,250.7 L1123.0,249.7 L1124.0,248.3 L1124.7,246.9 L1125.2,245.7 L1125.7,244.4 L1126.2,242.9 L1126.7,241.2 L1127.2,239.4 L1127.7,237.7 L1128.2,236.0 L1128.6,234.5 L1129.0,233.0 L1129.4,231.4 L1129.8,229.8 L1130.2,228.3 L1130.6,226.7 L1131.1,225.1 L1131.5,223.5 L1132.0,221.9 L1132.5,220.4 L1133.1,218.8 L1133.6,217.3 L1134.2,215.8 L1134.8,214.2 L1135.4,212.7 L1136.1,211.2 L1136.7,209.7 L1137.4,208.2 L1138.1,206.7 L1138.9,205.1 L1139.6,203.5 L1140.4,201.9 L1141.3,200.3 L1142.1,198.8 L1143.0,197.4 L1143.8,196.2 L1144.7,195.1 L1146.0,193.7 L1147.3,192.5 L1148.7,191.5 L1150.0,190.6 L1151.4,189.9 L1153.0,189.3 L1154.7,188.9 L1156.5,188.7 L1158.2,188.7 L1159.8,188.9 L1161.4,189.3 L1163.0,190.0 L1164.5,190.7 L1166.0,191.4 L1167.5,192.2 L1168.9,193.1 L1170.4,194.1 L1171.7,195.1 L1172.7,196.0 L1173.8,197.0 L1175.0,198.2 L1176.2,199.5 L1177.4,200.8 L1178.6,202.2 L1179.7,203.6 L1180.8,205.0 L1181.8,206.2 L1182.7,207.4 L1183.7,208.6 L1184.6,209.9 L1185.5,211.2 L1186.4,212.6 L1187.3,213.9 L1188.2,215.4 L1189.1,216.8 L1190.0,218.4 L1190.7,219.7 L1191.4,221.0 L1192.2,222.5 L1192.9,224.0 L1193.6,225.5 L1194.3,227.1 L1195.0,228.7 L1195.7,230.3 L1196.4,231.8 L1197.0,233.4 L1197.7,234.9 L1198.3,236.2 L1198.9,237.6 L1199.5,239.0 L1200.3,240.7 L1201.0,242.4 L1201.7,243.9 L1202.4,245.4 L1203.0,246.9 L1203.7,248.3 L1204.3,249.6 L1205.0,250.9 L1205.8,252.5 L1206.6,254.2 L1207.5,255.8 L1208.3,257.2 L1209.2,258.4 L1210.0,259.4 L1211.5,260.6 L1213.0,261.4 L1214.5,261.8 L1216.0,261.5 L1217.5,260.7 L1219.0,259.3 L1219.9,258.0 L1220.7,256.4 L1221.3,255.0 L1221.9,253.3 L1222.5,251.6 L1223.0,249.8 L1223.6,248.0 L1224.1,246.2 L1224.6,244.3 L1225.1,242.5 L1225.6,240.7 L1226.0,239.2 L1226.4,237.7 L1226.9,236.2 L1227.3,234.6 L1227.7,233.1 L1228.1,231.4 L1228.5,229.8 L1228.8,228.2 L1229.2,226.6 L1229.6,225.0 L1230.0,223.4 L1230.4,221.8 L1230.7,220.3 L1231.1,218.9 L1231.5,217.5 L1231.9,215.9 L1232.4,214.2 L1233.0,212.5 L1233.5,210.8 L1234.0,209.3 L1234.4,207.7 L1234.9,206.2 L1235.4,204.7 L1235.9,203.1 L1236.4,201.6 L1236.9,200.0 L1237.5,198.4 L1238.0,196.8 L1238.5,195.1 L1239.0,193.5 L1239.6,191.9 L1240.1,190.3 L1240.6,188.8 L1241.2,187.3 L1241.7,185.8 L1242.4,184.2 L1243.0,182.6 L1243.7,181.1 L1244.3,179.6 L1245.0,178.1 L1245.7,176.6 L1246.4,175.0 L1247.0,173.4 L1247.6,172.0 L1248.1,170.5 L1248.7,168.9 L1249.3,167.4 L1249.9,165.8 L1250.5,164.3 L1251.2,162.7 L1251.9,161.1 L1252.6,159.7 L1253.3,158.3 L1254.0,156.9 L1254.8,155.5 L1255.6,154.1 L1256.4,152.7 L1257.3,151.3 L1258.1,149.9 L1259.1,148.4 L1260.1,147.0 L1261.0,145.6 L1261.9,144.4 L1262.8,143.1 L1263.7,141.8 L1264.7,140.5 L1265.7,139.2 L1266.8,137.9 L1267.9,136.6 L1268.9,135.3 L1270.0,134.0 L1271.2,132.7 L1272.3,131.4 L1273.4,130.2 L1274.6,129.0 L1275.7,127.9 L1276.9,126.7 L1278.1,125.5 L1279.3,124.3 L1280.6,123.1 L1281.8,121.9 L1283.1,120.8 L1284.4,119.7 L1285.7,118.6 L1287.0,117.5 L1288.2,116.5 L1289.5,115.6 L1290.7,114.7 L1292.0,113.7 L1293.4,112.8 L1294.8,111.9 L1296.2,111.1 L1297.5,110.4 L1298.8,109.7 L1300.2,109.0 L1301.6,108.3 L1303.1,107.6 L1304.6,106.9 L1306.1,106.2 L1307.5,105.6 L1308.9,105.0 L1310.4,104.4 L1312.0,103.8 L1313.5,103.2 L1315.1,102.6 L1316.7,102.1 L1318.3,101.5 L1320.0,101.0 L1321.6,100.4 L1323.2,99.9 L1324.8,99.5 L1326.4,99.0 L1328.0,98.6 L1329.6,98.2 L1331.2,97.8 L1332.8,97.5 L1334.4,97.2 L1336.0,96.8 L1337.7,96.5 L1339.3,96.3 L1340.9,96.0 L1342.5,95.7 L1344.1,95.5 L1345.7,95.2 L1347.1,95.0 L1348.6,94.8 L1350.2,94.6 L1352.0,94.4 L1353.6,94.2 L1355.2,94.0 L1356.8,93.8 L1358.3,93.7 L1359.9,93.5 L1361.5,93.4 L1363.1,93.2 L1364.9,93.1 L1366.5,92.9 L1368.0,92.8 L1369.6,92.7 L1371.2,92.5 L1372.8,92.4 L1374.5,92.3 L1376.2,92.2 L1377.9,92.1 L1379.6,91.9 L1381.3,91.8 L1383.0,91.7 L1384.7,91.6 L1386.4,91.5 L1388.0,91.4 L1389.6,91.3 L1391.3,91.2 L1393.0,91.1 L1394.6,91.0 L1396.3,90.9 L1398.0,90.8 L1399.7,90.7 L1401.3,90.7 L1403.0,90.6 L1404.6,90.5 L1406.2,90.4 L1407.7,90.4 L1409.2,90.3 L1410.8,90.3 L1412.5,90.2 L1414.2,90.2 L1415.7,90.2 L1417.2,90.2 L1418.7,90.2 L1420.3,90.2 L1421.8,90.2 L1423.5,90.2 L1425.2,90.2 L1426.8,90.2 L1428.3,90.2 L1429.9,90.2 L1431.5,90.2 L1433.1,90.2 L1434.8,90.2 L1436.5,90.2 L1438.2,90.2 L1439.9,90.2 L1441.6,90.2 L1443.3,90.2 L1445.0,90.2 L1446.7,90.3 L1448.3,90.3 L1449.9,90.3 L1451.5,90.4 L1453.2,90.4 L1454.8,90.5 L1456.5,90.6 L1458.1,90.6 L1459.8,90.7 L1461.4,90.8 L1463.1,90.8 L1464.7,90.9 L1466.3,91.0 L1467.8,91.1 L1469.2,91.1 L1470.7,91.2 L1472.5,91.3 L1474.4,91.4 L1476.1,91.4 L1477.8,91.5 L1479.5,91.6 L1481.1,91.7 L1482.7,91.8 L1484.3,91.8 L1485.9,92.0 L1487.5,92.1 L1489.3,92.2 L1490.9,92.4 L1492.5,92.6 L1494.1,92.7 L1495.8,92.9 L1497.4,93.1 L1499.2,93.2 L1500.8,93.4 L1502.4,93.5 L1504.0,93.6 L1505.6,93.7 L1507.3,93.8 L1509.0,93.9 L1510.6,94.0 L1512.3,94.1 L1514.0,94.2 L1515.6,94.3 L1517.2,94.5 L1518.9,94.6 L1520.5,94.7 L1522.1,94.9 L1523.7,95.0 L1525.3,95.1 L1527.0,95.3 L1528.6,95.5 L1530.2,95.6 L1531.8,95.8 L1533.4,96.0 L1535.0,96.2 L1536.6,96.4 L1538.1,96.6 L1539.7,96.8 L1541.3,97.1 L1542.9,97.3 L1544.6,97.6 L1546.4,97.9 L1548.0,98.1 L1549.4,98.4 L1550.9,98.6 L1552.5,98.9 L1554.1,99.2 L1555.8,99.5 L1557.4,99.8 L1559.1,100.1 L1560.7,100.4 L1562.4,100.7 L1564.1,101.0 L1565.7,101.4 L1567.3,101.7 L1568.9,102.0 L1570.5,102.4 L1572.1,102.7 L1573.8,103.1 L1575.4,103.5 L1577.0,103.8 L1578.7,104.2 L1580.3,104.6 L1581.9,105.0 L1583.5,105.4 L1585.0,105.8 L1586.6,106.2 L1588.1,106.7 L1589.5,107.1 L1591.1,107.6 L1592.7,108.1 L1594.3,108.6 L1595.9,109.2 L1597.4,109.7 L1598.9,110.3 L1600.4,110.9 L1601.9,111.4 L1603.3,112.0 L1604.8,112.5 L1606.4,113.0 L1607.9,113.6 L1609.5,114.1 L1611.1,114.5 L1612.6,115.0 L1614.2,115.5 L1615.7,116.1 L1617.2,116.6 L1618.6,117.3 L1619.9,117.9 L1621.4,118.8 L1622.8,119.7 L1624.2,120.7 L1625.5,121.7 L1626.8,122.8 L1628.1,123.9 L1629.5,124.9 L1630.9,126.0 L1632.1,126.9 L1633.4,127.8 L1634.7,128.7 L1636.0,129.7 L1637.4,130.6 L1638.7,131.6 L1640.0,132.5 L1641.4,133.5 L1642.6,134.5 L1643.9,135.5 L1645.2,136.6 L1646.4,137.7 L1647.6,138.8 L1648.9,139.9 L1650.1,141.1 L1651.3,142.2 L1652.5,143.4 L1653.8,144.6 L1655.0,145.8 L1656.2,146.9 L1657.3,148.1 L1658.5,149.3 L1659.7,150.5 L1661.0,151.7 L1662.2,152.9 L1663.4,154.2 L1664.6,155.4 L1665.8,156.5 L1666.9,157.6 L1667.9,158.7 L1669.1,159.8 L1670.4,161.0 L1671.6,162.1 L1672.7,163.1 L1673.8,164.2 L1674.9,165.2 L1676.1,166.2 L1677.4,167.3 L1678.6,168.3 L1679.9,169.4 L1681.2,170.5 L1682.6,171.6 L1683.9,172.7 L1685.3,173.8 L1686.6,174.7 L1687.8,175.5 L1689.0,176.2 L1690.8,177.0 L1692.5,177.7 L1694.1,178.3 L1695.7,178.7 L1697.3,178.9 L1698.8,179.0 L1700.3,179.0 L1701.9,178.9 L1703.6,178.5 L1705.0,178.1 L1706.3,177.5 L1707.6,176.9 L1709.0,176.1 L1710.4,175.2 L1711.9,174.3 L1713.4,173.3 L1714.8,172.3 L1716.3,171.3 L1717.6,170.4 L1718.9,169.6 L1720.2,168.7 L1721.5,167.7 L1722.9,166.8 L1724.2,165.9 L1725.5,164.9 L1726.8,163.9 L1728.2,162.9 L1729.5,161.9 L1730.8,160.9 L1732.0,159.9 L1733.3,158.9 L1734.5,157.8 L1735.8,156.8 L1737.1,155.7 L1738.4,154.6 L1739.7,153.5 L1740.8,152.5 L1741.8,151.7 L1743.5,150.3" fill="none" stroke="#ff0000" stroke-width="4.2" stroke-dasharray="12.5 15 1.5 14.5 1.5 15" stroke-linecap="round"/>
<path d="M1018.2,86.5 L1021.0,87.1 L1022.3,87.3 L1023.4,87.6 L1024.8,87.8 L1026.3,88.1 L1027.8,88.4 L1029.4,88.7 L1030.9,88.9 L1032.5,89.2 L1034.1,89.4 L1035.6,89.6 L1037.2,89.8 L1038.9,90.0 L1040.6,90.2 L1042.4,90.3 L1044.1,90.4 L1045.8,90.5 L1047.5,90.7 L1049.2,90.8 L1051.0,91.1 L1052.7,91.3 L1054.4,91.7 L1056.0,92.1 L1057.5,92.6 L1059.1,93.2 L1060.5,93.9 L1061.9,94.7 L1063.4,95.5 L1064.8,96.4 L1066.2,97.3 L1067.5,98.3 L1068.8,99.3 L1070.1,100.4 L1071.5,101.7 L1072.8,103.0 L1074.1,104.3 L1075.0,105.4 L1076.0,106.6 L1076.9,107.9 L1077.9,109.2 L1078.8,110.5 L1079.7,111.9 L1080.5,113.3 L1081.3,114.7 L1082.2,116.2 L1083.0,117.7 L1083.7,119.2 L1084.5,120.7 L1085.2,122.3 L1085.9,123.8 L1086.6,125.4 L1087.3,126.9 L1087.9,128.5 L1088.5,130.1 L1089.2,131.7 L1089.8,133.3 L1090.4,134.9 L1091.0,136.5 L1091.5,138.1 L1092.1,139.7 L1092.6,141.2 L1093.1,142.8 L1093.6,144.4 L1094.1,146.0 L1094.6,147.6 L1095.1,149.2 L1095.5,150.8 L1096.0,152.4 L1096.4,154.0 L1096.9,155.6 L1097.3,157.1 L1097.7,158.7 L1098.1,160.3 L1098.5,161.9 L1098.8,163.5 L1099.2,165.1 L1099.5,166.6 L1099.8,168.2 L1100.1,169.8 L1100.5,171.3 L1100.8,172.9 L1101.1,174.6 L1101.4,176.2 L1101.7,177.8 L1102.0,179.5 L1102.3,181.2 L1102.7,182.9 L1103.0,184.6 L1103.3,186.3 L1103.6,187.9 L1103.8,189.6 L1104.1,191.1 L1104.3,192.7 L1104.6,194.2 L1104.8,195.8 L1105.1,197.4 L1105.3,199.0 L1105.5,200.5 L1105.8,202.1 L1106.0,203.8 L1106.2,205.4 L1106.5,207.1 L1106.7,208.8 L1106.9,210.5 L1107.1,212.2 L1107.4,213.9 L1107.6,215.5 L1107.8,217.2 L1108.0,218.8 L1108.3,220.5 L1108.5,222.2 L1108.7,223.8 L1109.0,225.5 L1109.2,227.1 L1109.4,228.8 L1109.7,230.4 L1109.9,232.0 L1110.2,233.7 L1110.4,235.3 L1110.7,236.9 L1110.9,238.6 L1111.2,240.2 L1111.4,241.8 L1111.7,243.4 L1111.9,245.0 L1112.1,246.7 L1112.3,248.2 L1112.5,249.8 L1112.7,251.4 L1112.9,253.0 L1113.1,254.8 L1113.3,256.7 L1113.5,258.3 L1113.6,259.7 L1113.8,261.1 L1113.9,262.6 L1114.1,264.2 L1114.2,265.8 L1114.4,267.5 L1114.6,269.2 L1114.7,271.0 L1114.9,272.7 L1115.1,274.5 L1115.3,276.2 L1115.4,278.0 L1115.6,279.7 L1115.8,281.3 L1116.0,282.9 L1116.2,284.5 L1116.4,286.1 L1116.6,287.8 L1116.8,289.5 L1117.0,291.3 L1117.2,293.0 L1117.4,294.8 L1117.6,296.5 L1117.9,298.1 L1118.1,299.8 L1118.3,301.3 L1118.5,302.7 L1118.6,304.1 L1118.8,305.4 L1119.0,306.7 L1119.2,308.7 L1119.4,309.7 L1119.6,311.6 L1119.9,313.3 L1120.1,314.9 L1120.3,316.3 L1120.5,317.8 L1120.7,319.4 L1121.0,321.3 L1121.3,323.0 L1121.5,324.4 L1121.8,325.6 L1122.4,324.6 L1122.6,323.4 L1122.8,322.1 L1123.0,320.6 L1123.3,318.9 L1123.6,317.0 L1123.9,315.1 L1124.1,313.1 L1124.4,311.6 L1124.6,310.2 L1124.8,308.7 L1125.0,307.2 L1125.3,305.6 L1125.5,303.9 L1125.8,302.2 L1126.0,300.4 L1126.2,299.0 L1126.4,297.5 L1126.6,296.0 L1126.8,294.5 L1127.0,292.9 L1127.3,291.2 L1127.5,289.5 L1127.7,287.8 L1127.9,286.2 L1128.2,284.5 L1128.4,282.9 L1128.6,281.3 L1128.8,279.7 L1129.0,278.1 L1129.2,276.5 L1129.4,274.9 L1129.7,273.3 L1129.9,271.7 L1130.1,270.1 L1130.3,268.5 L1130.5,266.9 L1130.7,265.3 L1131.0,263.7 L1131.2,262.1 L1131.5,260.5 L1131.7,258.9 L1132.0,257.2 L1132.2,255.6 L1132.5,253.9 L1132.8,252.3 L1133.0,250.7 L1133.3,249.1 L1133.6,247.5 L1133.9,245.9 L1134.1,244.4 L1134.4,242.8 L1134.7,241.2 L1135.0,239.5 L1135.3,237.8 L1135.6,236.2 L1135.9,234.5 L1136.3,233.0 L1136.6,231.4 L1136.9,230.0 L1137.2,228.5 L1137.5,227.1 L1137.9,225.4 L1138.3,223.7 L1138.8,222.1 L1139.2,220.6 L1139.6,219.1 L1140.0,217.5 L1140.5,215.9 L1141.0,214.4 L1141.4,212.8 L1141.9,211.3 L1142.4,209.7 L1143.0,208.1 L1143.5,206.6 L1144.1,205.2 L1144.7,203.7 L1145.4,202.1 L1146.2,200.4 L1147.0,198.8 L1147.8,197.3 L1148.7,195.9 L1149.5,194.6 L1150.3,193.3 L1151.3,192.0 L1152.2,190.8 L1153.1,189.5 L1154.1,188.3 L1155.1,187.0 L1156.2,185.7 L1157.3,184.5 L1158.4,183.2 L1159.6,182.0 L1160.9,180.9 L1162.3,179.8 L1163.6,178.9 L1164.9,178.0 L1166.3,177.2 L1167.8,176.5 L1169.2,175.8 L1170.8,175.2 L1172.4,174.6 L1174.0,174.1 L1175.7,173.6 L1177.3,173.2 L1178.9,172.9 L1180.5,172.6 L1182.2,172.4 L1183.8,172.2 L1185.3,172.1 L1186.9,172.0 L1188.5,172.0 L1190.1,171.9 L1191.7,171.9 L1193.3,171.9 L1194.9,172.0 L1196.5,172.1 L1198.1,172.2 L1199.6,172.4 L1201.2,172.6 L1202.8,172.9 L1204.4,173.3 L1206.0,173.7 L1207.6,174.2 L1209.2,174.8 L1210.9,175.4 L1212.5,176.1 L1214.1,176.8 L1215.6,177.5 L1217.0,178.3 L1218.4,179.1 L1219.8,179.9 L1221.2,180.8 L1222.7,181.7 L1224.2,182.8 L1225.1,183.3 L1226.2,184.1 L1227.4,184.9 L1228.8,185.7 L1230.2,186.6 L1231.7,187.5 L1233.2,188.4 L1234.7,189.3 L1236.1,190.1 L1237.5,190.9 L1239.0,191.6 L1240.4,192.3 L1241.9,193.0 L1243.3,193.7 L1244.8,194.3 L1246.3,194.9 L1247.9,195.4 L1249.4,195.9 L1251.0,196.4 L1252.6,196.8 L1254.2,197.2 L1255.8,197.5 L1257.4,197.8 L1259.0,198.1 L1260.7,198.3 L1262.3,198.5 L1263.9,198.6 L1265.5,198.6 L1267.1,198.7 L1268.8,198.6 L1270.5,198.5 L1272.1,198.3 L1273.8,198.0 L1275.4,197.7 L1277.0,197.2 L1278.6,196.8 L1280.2,196.2 L1281.7,195.6 L1283.3,194.9 L1284.9,194.2 L1286.5,193.4 L1287.9,192.6 L1289.2,191.7 L1290.6,190.8 L1292.0,189.8 L1293.4,188.8 L1294.8,187.8 L1296.1,186.8 L1297.5,185.8 L1298.8,184.7 L1300.2,183.7 L1301.5,182.6 L1302.8,181.6 L1304.1,180.5 L1305.4,179.5 L1306.6,178.4 L1308.0,177.2 L1309.3,176.1 L1310.6,174.9 L1311.9,173.7 L1313.2,172.6 L1314.4,171.5 L1315.7,170.4 L1317.0,169.3 L1318.2,168.3 L1319.5,167.3 L1320.7,166.2 L1322.0,165.2 L1323.3,164.2 L1324.6,163.2 L1325.9,162.2 L1327.2,161.1 L1328.5,160.1 L1329.7,159.1 L1331.0,158.1 L1332.4,157.1 L1333.8,156.1 L1335.2,155.1 L1336.5,154.1 L1337.9,153.2 L1339.3,152.2 L1340.7,151.2 L1342.1,150.2 L1343.5,149.3 L1344.9,148.3 L1346.3,147.4 L1347.7,146.5 L1349.0,145.6 L1350.4,144.7 L1351.7,143.9 L1353.1,143.0 L1354.5,142.2 L1356.0,141.4 L1357.4,140.6 L1358.8,139.9 L1360.2,139.2 L1361.6,138.5 L1363.1,137.8 L1364.7,137.0 L1366.2,136.4 L1367.7,135.7 L1369.2,135.0 L1370.8,134.4 L1372.3,133.7 L1373.8,133.1 L1375.3,132.5 L1376.8,131.9 L1378.4,131.3 L1380.1,130.6 L1381.7,130.0 L1383.2,129.5 L1384.7,128.9 L1386.2,128.4 L1387.8,127.8 L1389.4,127.2 L1391.0,126.7 L1392.7,126.1 L1394.3,125.6 L1395.9,125.1 L1397.6,124.6 L1399.1,124.1 L1400.7,123.6 L1402.3,123.2 L1403.9,122.7 L1405.4,122.3 L1407.0,121.9 L1408.6,121.5 L1410.2,121.1 L1411.8,120.7 L1413.4,120.4 L1415.0,120.0 L1416.6,119.7 L1418.2,119.4 L1419.8,119.0 L1421.4,118.7 L1422.9,118.5 L1424.5,118.2 L1426.1,117.9 L1427.7,117.6 L1429.3,117.4 L1430.9,117.1 L1432.5,116.9 L1434.2,116.7 L1435.8,116.4 L1437.5,116.2 L1439.2,116.0 L1440.8,115.8 L1442.5,115.6 L1444.1,115.4 L1445.8,115.3 L1447.5,115.1 L1449.1,114.9 L1450.8,114.8 L1452.5,114.7 L1454.1,114.5 L1455.8,114.4 L1457.5,114.3 L1459.2,114.2 L1460.8,114.1 L1462.5,114.0 L1464.2,114.0 L1465.8,113.9 L1467.5,113.8 L1469.2,113.8 L1470.8,113.7 L1472.5,113.7 L1474.2,113.7 L1475.9,113.7 L1477.5,113.7 L1479.2,113.7 L1480.9,113.7 L1482.5,113.7 L1484.2,113.8 L1485.9,113.8 L1487.5,113.9 L1489.2,114.0 L1490.8,114.0 L1492.5,114.1 L1494.2,114.3 L1495.8,114.4 L1497.5,114.6 L1499.1,114.7 L1500.7,114.9 L1502.4,115.1 L1504.0,115.4 L1505.7,115.6 L1507.4,115.9 L1509.0,116.2 L1510.6,116.5 L1512.1,116.8 L1513.6,117.1 L1514.9,117.5 L1516.7,117.9 L1518.3,118.3 L1519.8,118.8 L1521.3,119.3 L1522.8,119.8 L1524.2,120.3 L1525.7,120.8 L1527.2,121.4 L1528.7,122.1 L1530.2,122.7 L1531.7,123.4 L1533.2,124.1 L1534.7,124.8 L1536.2,125.6 L1537.8,126.5 L1539.3,127.3 L1540.8,128.2 L1542.2,129.0 L1543.6,130.0 L1545.1,131.1 L1546.5,132.1 L1547.9,133.2 L1549.2,134.3 L1550.4,135.4 L1551.5,136.5 L1552.7,137.6 L1553.9,138.8 L1555.1,140.1 L1556.1,141.2 L1557.2,142.4 L1558.3,143.6 L1559.3,144.9 L1560.4,146.1 L1561.4,147.4 L1562.4,148.7 L1563.3,150.0 L1564.3,151.3 L1565.2,152.7 L1566.1,154.0 L1567.0,155.3 L1567.9,156.7 L1568.7,158.2 L1569.5,159.6 L1570.3,161.0 L1571.1,162.5 L1571.8,164.0 L1572.6,165.6 L1573.4,167.2 L1574.1,168.8 L1574.8,170.4 L1575.5,172.1 L1576.1,173.6 L1576.7,175.2 L1577.3,176.8 L1577.9,178.4 L1578.5,180.1 L1579.0,181.5 L1579.4,183.0 L1579.9,184.5 L1580.4,186.1 L1580.8,187.6 L1581.2,189.2 L1581.7,190.8 L1582.1,192.4 L1582.6,194.1 L1583.0,195.8 L1583.4,197.5 L1583.8,199.2 L1584.2,200.8 L1584.6,202.5 L1585.0,204.2 L1585.4,205.8 L1585.7,207.5 L1586.1,209.2 L1586.5,210.8 L1586.9,212.5 L1587.2,214.2 L1587.6,215.8 L1588.0,217.5 L1588.3,219.2 L1588.7,220.8 L1589.0,222.5 L1589.3,224.2 L1589.7,225.8 L1590.0,227.5 L1590.3,229.2 L1590.6,230.8 L1591.0,232.5 L1591.3,234.2 L1591.6,235.8 L1591.9,237.5 L1592.1,239.2 L1592.4,240.8 L1592.7,242.5 L1592.9,244.2 L1593.2,245.8 L1593.4,247.5 L1593.7,249.2 L1593.9,250.8 L1594.2,252.5 L1594.4,254.2 L1594.6,255.8 L1594.9,257.5 L1595.1,259.2 L1595.3,260.8 L1595.5,262.5 L1595.7,264.1 L1595.9,265.7 L1596.1,267.4 L1596.3,269.2 L1596.5,270.8 L1596.6,272.4 L1596.8,273.9 L1596.9,275.5 L1597.1,277.1 L1597.2,278.9 L1597.4,280.7 L1597.5,282.6 L1597.7,284.3 L1597.8,285.7 L1597.9,287.2 L1598.0,288.7 L1598.2,290.3 L1598.3,291.9 L1598.4,293.6 L1598.6,295.3 L1598.7,297.0 L1598.8,298.7 L1599.0,300.4 L1599.1,302.1 L1599.2,303.7 L1599.4,305.3 L1599.5,307.0 L1599.6,308.6 L1599.7,310.2 L1599.9,311.9 L1600.0,313.5 L1600.1,315.1 L1600.2,316.7 L1600.3,318.3 L1600.4,320.0 L1600.6,321.6 L1600.7,323.3 L1600.8,325.0 L1600.9,326.6 L1601.0,328.2 L1601.1,329.9 L1601.2,331.6 L1601.4,333.3 L1601.5,335.0 L1601.6,336.7 L1601.7,338.4 L1601.8,340.1 L1601.9,341.8 L1602.0,343.4 L1602.1,345.0 L1602.2,346.5 L1602.3,348.1 L1602.4,349.8 L1602.5,351.5 L1602.6,353.2 L1602.6,354.8 L1602.7,356.4 L1602.8,358.0 L1602.9,359.6 L1602.9,361.1 L1603.0,362.6 L1603.1,364.2 L1603.1,365.8 L1603.2,367.5 L1603.3,369.2 L1603.3,370.8 L1603.4,372.4 L1603.5,374.0 L1603.5,375.7 L1603.6,377.4 L1603.7,379.2 L1603.7,380.8 L1603.8,382.3 L1603.9,383.8 L1603.9,385.4 L1604.0,386.9 L1604.1,388.6 L1604.2,390.2 L1604.2,391.8 L1604.3,393.5 L1604.4,395.1 L1604.5,396.8 L1604.5,398.4 L1604.6,400.0 L1604.7,401.6 L1604.7,403.2 L1604.8,404.9 L1604.9,406.6 L1605.0,408.3 L1605.0,410.0 L1605.1,411.6 L1605.2,413.3 L1605.2,414.8 L1605.3,416.3 L1605.4,417.8 L1605.5,419.2 L1605.6,420.8 L1605.7,422.6 L1605.8,424.4 L1605.9,426.0 L1606.0,427.6 L1606.1,429.1 L1606.2,430.5 L1606.3,431.9 L1606.4,433.0 L1606.5,434.1 L1606.5,435.3 L1606.6,436.3 L1606.8,438.0 L1607.2,436.3 L1607.3,435.3 L1607.3,434.1 L1607.4,433.0 L1607.5,431.9 L1607.6,430.5 L1607.7,429.1 L1607.8,427.6 L1607.9,426.0 L1608.0,424.4 L1608.1,422.6 L1608.1,420.8 L1608.2,419.2 L1608.3,417.8 L1608.3,416.3 L1608.4,414.8 L1608.4,413.3 L1608.5,411.6 L1608.5,410.0 L1608.5,408.3 L1608.6,406.6 L1608.6,404.9 L1608.7,403.2 L1608.8,401.6 L1608.8,400.0 L1608.9,398.4 L1609.0,396.8 L1609.1,395.1 L1609.2,393.5 L1609.2,391.8 L1609.3,390.2 L1609.5,388.6 L1609.6,386.9 L1609.7,385.4 L1609.8,383.8 L1609.8,382.3 L1609.9,380.8 L1610.1,379.2 L1610.2,377.4 L1610.3,375.7 L1610.4,374.0 L1610.5,372.4 L1610.6,370.8 L1610.7,369.2 L1610.8,367.5 L1611.0,365.8 L1611.1,364.2 L1611.2,362.6 L1611.3,361.1 L1611.4,359.6 L1611.6,358.0 L1611.7,356.4 L1611.8,354.8 L1611.9,353.2 L1612.1,351.5 L1612.2,349.8 L1612.3,348.1 L1612.4,346.5 L1612.5,345.0 L1612.5,343.4 L1612.6,341.8 L1612.7,340.1 L1612.7,338.4 L1612.8,336.7 L1612.9,335.0 L1612.9,333.3 L1613.0,331.6 L1613.1,329.9 L1613.2,328.2 L1613.2,326.6 L1613.3,325.0 L1613.4,323.3 L1613.5,321.6 L1613.6,320.0 L1613.7,318.3 L1613.8,316.7 L1613.9,315.1 L1614.0,313.5 L1614.1,311.9 L1614.2,310.2 L1614.3,308.6 L1614.4,307.0 L1614.5,305.3 L1614.7,303.7 L1614.8,302.1 L1615.0,300.5 L1615.1,298.8 L1615.3,297.2 L1615.4,295.6 L1615.6,294.0 L1615.7,292.3 L1615.9,290.7 L1616.1,289.1 L1616.3,287.5 L1616.4,285.8 L1616.6,284.2 L1616.8,282.6 L1617.0,281.0 L1617.2,279.3 L1617.4,277.7 L1617.6,276.1 L1617.8,274.5 L1618.1,272.9 L1618.3,271.2 L1618.5,269.6 L1618.7,268.0 L1618.9,266.4 L1619.2,264.7 L1619.4,263.1 L1619.6,261.5 L1619.8,259.9 L1620.0,258.2 L1620.2,256.6 L1620.4,255.0 L1620.6,253.3 L1620.8,251.7 L1621.0,250.1 L1621.2,248.4 L1621.5,246.8 L1621.7,245.2 L1621.9,243.6 L1622.2,242.0 L1622.5,240.4 L1622.7,238.7 L1623.0,237.0 L1623.4,235.2 L1623.7,233.5 L1624.0,231.7 L1624.4,230.0 L1624.7,228.3 L1625.1,226.6 L1625.4,225.0 L1625.7,223.5 L1626.1,222.1 L1626.4,220.7 L1626.7,219.1 L1627.1,217.4 L1627.5,215.9 L1627.8,214.5 L1628.2,212.9 L1628.6,211.3 L1629.1,209.4 L1629.5,208.2 L1629.8,206.9 L1630.2,205.5 L1630.5,204.1 L1631.0,202.5 L1631.4,200.9 L1631.9,199.2 L1632.4,197.4 L1632.8,195.7 L1633.4,193.9 L1633.9,192.2 L1634.4,190.5 L1634.9,188.8 L1635.5,187.3 L1636.0,185.7 L1636.6,184.3 L1637.2,182.8 L1637.8,181.1 L1638.5,179.5 L1639.2,177.9 L1639.9,176.4 L1640.7,174.8 L1641.4,173.3 L1642.2,171.9 L1642.9,170.4 L1643.7,169.0 L1644.5,167.6 L1645.2,166.3 L1646.0,164.9 L1646.8,163.5 L1647.7,162.1 L1648.6,160.6 L1649.5,159.2 L1650.4,157.8 L1651.3,156.5 L1652.2,155.2 L1653.1,154.0 L1654.0,152.8 L1655.0,151.6 L1655.9,150.4 L1657.0,149.2 L1658.2,147.9 L1659.3,146.8 L1660.5,145.6 L1661.7,144.6 L1662.9,143.5 L1664.1,142.5 L1665.4,141.5 L1666.7,140.5 L1668.0,139.6 L1669.4,138.7 L1670.7,137.8 L1672.1,136.9 L1673.6,136.1 L1675.1,135.3 L1676.5,134.5 L1678.0,133.8 L1679.6,133.0 L1681.1,132.4 L1682.5,131.7 L1684.0,131.1 L1685.5,130.5 L1687.0,130.0 L1688.5,129.5 L1690.1,129.0 L1691.7,128.5 L1693.2,128.0 L1694.8,127.6 L1696.4,127.2 L1698.0,126.8 L1699.6,126.4 L1701.2,126.1 L1702.8,125.7 L1704.5,125.4 L1706.1,125.1 L1707.8,124.9 L1709.4,124.6 L1711.1,124.4 L1712.7,124.2 L1714.3,124.0 L1715.9,123.9 L1717.6,123.7 L1719.3,123.6 L1720.9,123.4 L1722.6,123.3 L1724.3,123.3 L1725.9,123.2 L1727.5,123.1 L1729.0,123.1 L1730.5,123.0 L1732.1,123.0 L1733.8,123.0 L1735.4,123.0 L1736.9,123.0 L1738.2,123.0 L1739.3,123.0 L1740.6,123.0 L1743.5,123.0" fill="none" stroke="#000" stroke-width="4" stroke-linejoin="round"/>
<rect x="1276.3" y="463.4" width="333.1" height="79.6" fill="#ffffff" stroke="#000" stroke-width="1.2"/>
<line x1="1280.3" y1="484.2" x2="1347.5" y2="484.2" stroke="#ff0000" stroke-width="4.2" stroke-dasharray="14.3 14 2 14 2 14" stroke-linecap="round"/>
<line x1="1278.3" y1="521.6" x2="1349.5" y2="521.6" stroke="#000" stroke-width="4"/>
<text x="1356" y="494.3" font-size="29.5" textLength="228" lengthAdjust="spacingAndGlyphs">S11 using BPSO</text>
<text x="1356" y="531.8" font-size="29.5" textLength="249" lengthAdjust="spacingAndGlyphs">S11 using VBPSO</text>
</svg></body></html>
